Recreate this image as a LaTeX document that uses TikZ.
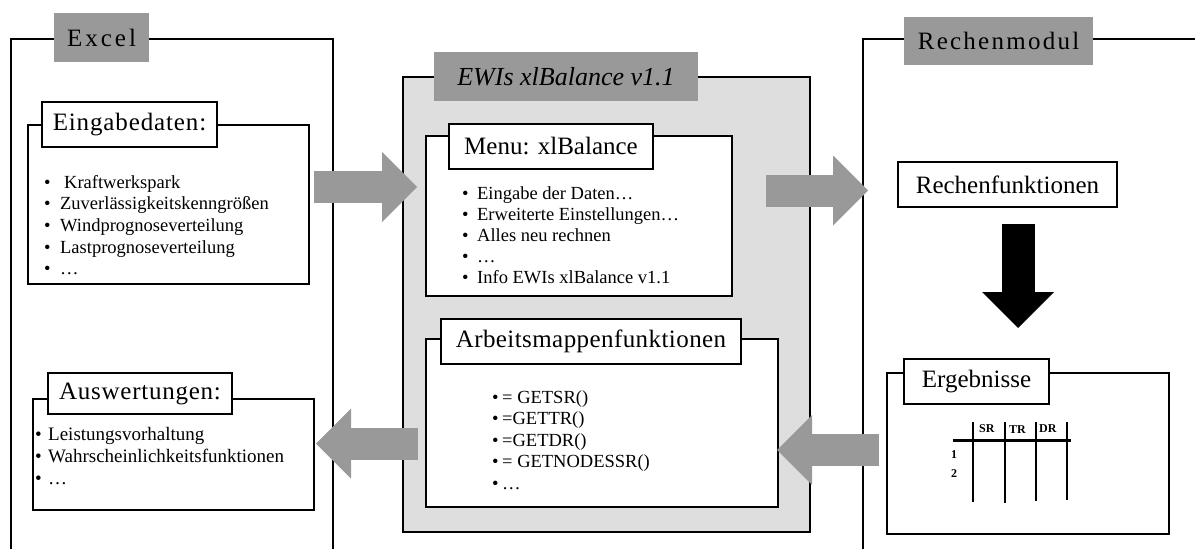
\documentclass[tikz,border=0pt]{standalone}
\usepackage{fontspec}
\setmainfont{Liberation Serif}
\usetikzlibrary{arrows.meta}
\definecolor{lblgray}{RGB}{153,153,153}
\definecolor{arrgray}{RGB}{153,153,153}
\definecolor{midgray}{RGB}{222,222,222}
\newcommand{\bul}[1]{\makebox[#1][l]{•}}
\begin{document}
\begin{tikzpicture}[x=1pt,y=-1pt,
  frameline/.style={line width=1.7pt},
  tag/.style={fill=lblgray, inner sep=0, font=\fontsize{25}{30}\selectfont},
  box/.style={draw, line width=1.1pt, fill=white, inner sep=0},
  title/.style={draw, line width=1.1pt, fill=white, inner sep=0, font=\fontsize{25}{30}\selectfont},
  item/.style={anchor=base west, inner sep=0, font=\fontsize{18.5}{22}\selectfont},
  tbl/.style={inner sep=0, font=\bfseries\fontsize{12}{14}\selectfont},
  blockarrow/.style={arrgray, line width=32pt, -{Triangle[width=70pt,length=35pt,line width=0pt]}},
  blackarrow/.style={black, line width=33pt, -{Triangle[width=72pt,length=36pt,line width=0pt]}}]
\useasboundingbox (0,0) rectangle (1195,549);
% frames
\draw[frameline] (11,549) -- (11,39) -- (333,39) -- (333,549);
\draw[frameline] (863,549) -- (863,39) -- (1195,39);
\node[draw, line width=1.3pt, fill=midgray, minimum width=407pt, minimum height=455pt, inner sep=0] (mid) at (606.5,304.5) {};
% frame labels
\node[tag, minimum width=95pt, minimum height=49pt] (excelLbl) at (101.5,37.5) {\addfontfeatures{LetterSpace=12}Excel};
\node[tag, minimum width=189pt, minimum height=48pt] (rechLbl) at (998.5,41) {\addfontfeatures{LetterSpace=9}Rechenmodul};
\node[tag, minimum width=264pt, minimum height=49pt, font=\itshape\fontsize{26}{30}\selectfont] (midLbl) at (566,76.5) {EWIs xlBalance v1.1};
% Eingabedaten
\node[box, minimum width=281pt, minimum height=159pt] (eing) at (168.5,204.5) {};
\node[title, minimum width=175pt, minimum height=45pt] (eingLbl) at (129.5,124.5) {\addfontfeatures{LetterSpace=3.5}Eingabedaten:};
\node[item] (e1) at (44,188) {\bul{20pt}Kraftwerkspark};
\node[item] (e2) at (44,209.7) {\bul{16pt}Zuverlässigkeitskenngrößen};
\node[item] (e3) at (44,231.4) {\bul{16pt}Windprognoseverteilung};
\node[item] (e4) at (44,253.1) {\bul{16pt}Lastprognoseverteilung};
\node[item] (e5) at (44,274.8) {\bul{16pt}…};
% Menu
\node[box, minimum width=306pt, minimum height=160pt] (menu) at (579,216) {};
\node[title, minimum width=204pt, minimum height=45pt] (menuLbl) at (551,146.5) {Menu: xlBalance};
\node[item] (m1) at (462,199) {\bul{15pt}Eingabe der Daten…};
\node[item] (m2) at (462,220) {\bul{15pt}Erweiterte Einstellungen…};
\node[item] (m3) at (462,241) {\bul{15pt}Alles neu rechnen};
\node[item] (m4) at (462,262) {\bul{15pt}…};
\node[item] (m5) at (462,283) {\bul{15pt}Info EWIs xlBalance v1.1};
% Arbeitsmappenfunktionen
\node[box, minimum width=352pt, minimum height=168pt] (arb) at (602,423) {};
\node[title, minimum width=300pt, minimum height=45pt] (arbLbl) at (591,341.5) {\addfontfeatures{LetterSpace=1.7}Arbeitsmappenfunktionen};
\node[item] (b1) at (492,403) {\bul{10pt}= GETSR()};
\node[item] (b2) at (492,424.5) {\bul{10pt}=GETTR()};
\node[item] (b3) at (492,446) {\bul{10pt}=GETDR()};
\node[item] (b4) at (492,467.5) {\bul{10pt}= GETNODESSR()};
\node[item] (b5) at (492,489) {\bul{10pt}…};
% Auswertungen
\node[box, minimum width=281pt, minimum height=111pt] (ausw) at (173.5,454.5) {};
\node[title, minimum width=184pt, minimum height=41pt] (auswLbl) at (140,393.5) {\addfontfeatures{LetterSpace=3}Auswertungen:};
\node[item, font=\fontsize{19}{22}\selectfont] (w1) at (35,440) {\bul{13pt}Leistungsvorhaltung};
\node[item, font=\fontsize{19}{22}\selectfont] (w2) at (35,462) {\bul{13pt}Wahrscheinlichkeitsfunktionen};
\node[item, font=\fontsize{19}{22}\selectfont] (w3) at (35,484) {\bul{13pt}…};
% Rechenmodul contents
\node[title, minimum width=219pt, minimum height=45pt] (rf) at (1007.5,184.5) {Rechenfunktionen};
\node[box, minimum width=282pt, minimum height=161pt] (erg) at (1028,453.5) {};
\node[title, minimum width=145pt, minimum height=45pt] (ergLbl) at (976.5,381.5) {Ergebnisse};
% table
\draw[line width=3pt] (953,440) -- (1071,440);
\foreach \xx/\yy in {973/502, 1005/503, 1036/501, 1067/500}
  \draw[line width=2pt] (\xx,422) -- (\xx,\yy);
\node[tbl, anchor=base west] (sr) at (979,432) {SR};
\node[tbl, anchor=base west] (tr) at (1009,433) {TR};
\node[tbl, anchor=base west] (dr) at (1039,432) {DR};
\node[tbl, anchor=base west] (r1) at (951,458) {1};
\node[tbl, anchor=base west] (r2) at (951,477) {2};
% connectors
\coordinate (a1s) at (314,187);  \coordinate (a1e) at (417,187);
\coordinate (a2s) at (766,190.5);\coordinate (a2e) at (868,190.5);
\coordinate (a3s) at (879,450);  \coordinate (a3e) at (777,450);
\coordinate (a4s) at (418,443.5);\coordinate (a4e) at (316,443.5);
\coordinate (a5s) at (1018,224); \coordinate (a5e) at (1018,328);
\draw[blockarrow] (a1s) -- (a1e);
\draw[blockarrow] (a2s) -- (a2e);
\draw[blockarrow] (a3s) -- (a3e);
\draw[blockarrow] (a4s) -- (a4e);
\draw[blackarrow] (a5s) -- (a5e);
\end{tikzpicture}
\end{document}
